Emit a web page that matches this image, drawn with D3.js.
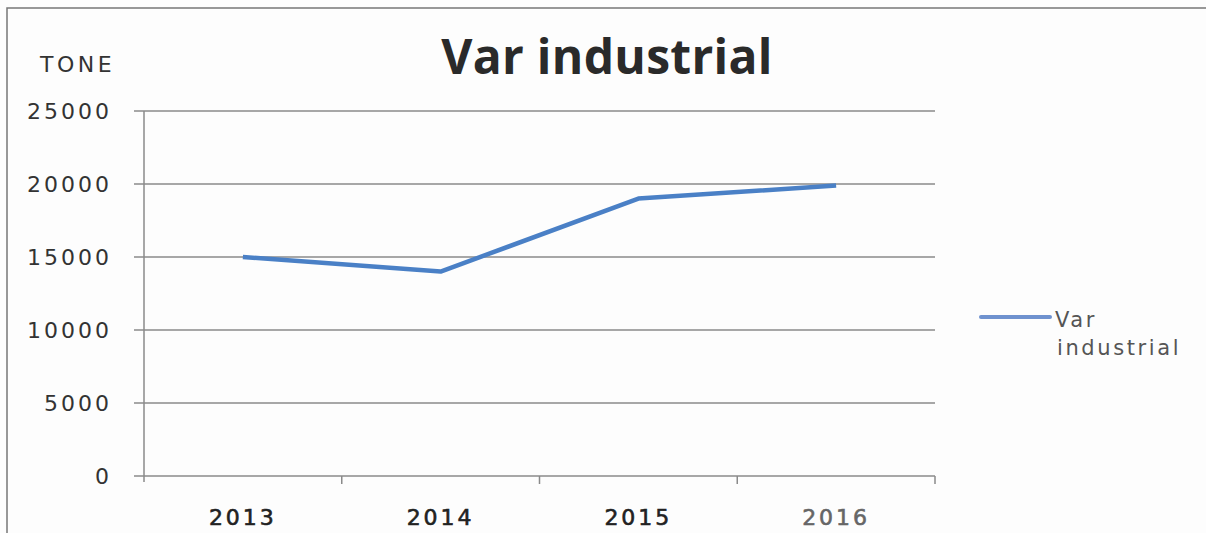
<!DOCTYPE html>
<html>
<head>
<meta charset="utf-8">
<script src="https://cdn.jsdelivr.net/npm/d3@7"></script>
<style>
  body { margin: 0; background: #fdfdfd; }
  svg { display: block; }
</style>
</head>
<body>
<svg width="1206" height="533"></svg>
<script>
// donnees du graphique
let annees = ["2013", "2014", "2015", "2016"];
let valeurs = [15000, 14000, 19000, 19900];
let graduations = [0, 5000, 10000, 15000, 20000, 25000];
let serie = "Var industrial";

let svg = d3.select("svg");

// cadre (scan : seulement gauche et haut visibles)
svg.append("path")
    .attr("d", "M7,533 L7,8 L1206,8")
    .attr("fill", "none")
    .attr("stroke", "#777")
    .attr("stroke-width", 1.5);

let x = d3.scaleBand().domain(annees).range([144, 935]);
let y = d3.scaleLinear().domain([0, 25000]).range([476, 111]);

// lignes de grille
svg.append("g")
    .selectAll("line")
    .data(graduations)
    .join("line")
    .attr("x1", 134)
    .attr("x2", 935)
    .attr("y1", d => y(d))
    .attr("y2", d => y(d))
    .attr("stroke", "#8a8a8a")
    .attr("stroke-width", 1.5);

// axe vertical
svg.append("line")
    .attr("x1", 144).attr("x2", 144)
    .attr("y1", y(25000)).attr("y2", y(0) + 6)
    .attr("stroke", "#8a8a8a")
    .attr("stroke-width", 1.5);

// graduations de l'axe x
let bords = annees.map(d => x(d)).concat([x.range()[1]]);
svg.append("g")
    .selectAll("line")
    .data(bords.slice(1))
    .join("line")
    .attr("x1", d => d).attr("x2", d => d)
    .attr("y1", y(0)).attr("y2", y(0) + 8)
    .attr("stroke", "#8a8a8a")
    .attr("stroke-width", 1.5);

// etiquettes y
svg.append("g")
    .selectAll("text")
    .data(graduations)
    .join("text")
    .attr("x", 112)
    .attr("y", d => y(d) + 8)
    .attr("text-anchor", "end")
    .style("font-family", "DejaVu Sans")
    .style("font-size", "22px")
    .style("letter-spacing", "3px")
    .attr("fill", "#333")
    .text(d => d);

// etiquettes x
svg.append("g")
    .selectAll("text")
    .data(annees)
    .join("text")
    .attr("x", d => x(d) + x.bandwidth() / 2)
    .attr("y", 525)
    .attr("text-anchor", "middle")
    .style("font-family", "DejaVu Sans")
    .style("font-size", "22px")
    .style("letter-spacing", "3px")
    .attr("fill", (d, i) => i == 3 ? "#666" : "#222")
    .attr("stroke", (d, i) => i == 3 ? "#666" : "#222")
    .attr("stroke-width", 0.6)
    .text(d => d);

// titre et unite
svg.append("text")
    .attr("x", 607)
    .attr("y", 74)
    .attr("text-anchor", "middle")
    .style("font-family", "Open Sans")
    .style("font-weight", "bold")
    .style("font-size", "48px")
    .style("letter-spacing", "0.3px")
    .attr("fill", "#2a2a2a")
    .text(serie);

svg.append("text")
    .attr("x", 40)
    .attr("y", 72)
    .style("font-family", "DejaVu Sans")
    .style("font-size", "22px")
    .style("letter-spacing", "3.5px")
    .attr("fill", "#333")
    .text("TONE");

// la courbe
let ligne = d3.line()
    .x((d, i) => x(annees[i]) + x.bandwidth() / 2)
    .y(d => y(d));

svg.append("path")
    .datum(valeurs)
    .attr("d", ligne)
    .attr("fill", "none")
    .attr("stroke", "#4a80c6")
    .attr("stroke-width", 4.5)
    .attr("stroke-linejoin", "round");

// legende
svg.append("line")
    .attr("x1", 981).attr("x2", 1050)
    .attr("y1", 317).attr("y2", 317)
    .attr("stroke", "#6f92cf")
    .attr("stroke-width", 4)
    .attr("stroke-linecap", "round");

let leg = svg.append("text")
    .style("font-family", "DejaVu Sans")
    .style("font-size", "21px")
    .style("letter-spacing", "2.6px")
    .attr("fill", "#555");
leg.append("tspan").attr("x", 1055).attr("y", 327).text("Var");
leg.append("tspan").attr("x", 1057).attr("y", 355).text("industrial");
</script>
</body>
</html>
